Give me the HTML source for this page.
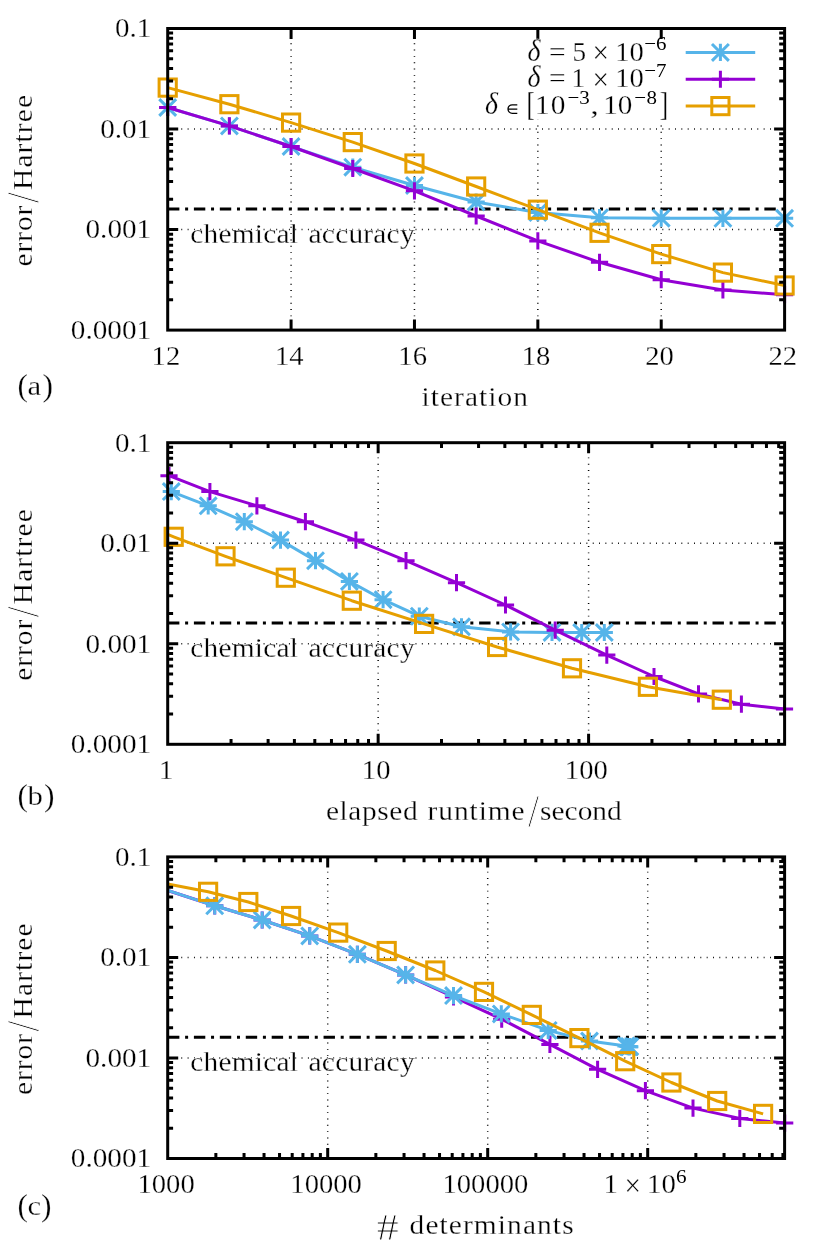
<!DOCTYPE html>
<html><head><meta charset="utf-8"><title>convergence</title>
<style>html,body{margin:0;padding:0;background:#fff}svg{display:block;will-change:transform}text{font-family:"Liberation Serif",serif;fill:#000}</style></head><body>
<svg width="830" height="1246" viewBox="0 0 830 1246">
<rect width="830" height="1246" fill="#fff"/>
<path d="M168.65 129.03H774.1M168.65 229.57H774.1M291.08 329V39M414.46 329V39M537.84 329V39M661.22 329V39" stroke="#000" stroke-width="1.5" stroke-dasharray="0.9 5.43" fill="none"/>
<rect x="478" y="30.5" width="296" height="89.3" fill="#fff"/>
<path d="M167.97 208.9H784.6" stroke="#000" stroke-width="3" stroke-dasharray="11.4 5.75 3 5.78" fill="none"/>
<path d="M167.7 107.5L229.39 125.9L291.08 146.5L352.77 167.2L414.46 185.5L476.15 202L537.84 212.6L599.53 217.7L661.22 218.2L722.91 218.3L784.6 218.3" stroke="#56B4E9" stroke-width="3" fill="none" stroke-linejoin="round"/>
<path d="M159.1 107.5H176.3M167.7 98.9V116.1M159.27 99.07L176.13 115.93M159.27 115.93L176.13 99.07" stroke="#56B4E9" stroke-width="3" fill="none"/>
<path d="M220.79 125.9H237.99M229.39 117.3V134.5M220.96 117.47L237.82 134.33M220.96 134.33L237.82 117.47" stroke="#56B4E9" stroke-width="3" fill="none"/>
<path d="M282.48 146.5H299.68M291.08 137.9V155.1M282.65 138.07L299.51 154.93M282.65 154.93L299.51 138.07" stroke="#56B4E9" stroke-width="3" fill="none"/>
<path d="M344.17 167.2H361.37M352.77 158.6V175.8M344.34 158.77L361.2 175.63M344.34 175.63L361.2 158.77" stroke="#56B4E9" stroke-width="3" fill="none"/>
<path d="M405.86 185.5H423.06M414.46 176.9V194.1M406.03 177.07L422.89 193.93M406.03 193.93L422.89 177.07" stroke="#56B4E9" stroke-width="3" fill="none"/>
<path d="M467.55 202H484.75M476.15 193.4V210.6M467.72 193.57L484.58 210.43M467.72 210.43L484.58 193.57" stroke="#56B4E9" stroke-width="3" fill="none"/>
<path d="M529.24 212.6H546.44M537.84 204V221.2M529.41 204.17L546.27 221.03M529.41 221.03L546.27 204.17" stroke="#56B4E9" stroke-width="3" fill="none"/>
<path d="M590.93 217.7H608.13M599.53 209.1V226.3M591.1 209.27L607.96 226.13M591.1 226.13L607.96 209.27" stroke="#56B4E9" stroke-width="3" fill="none"/>
<path d="M652.62 218.2H669.82M661.22 209.6V226.8M652.79 209.77L669.65 226.63M652.79 226.63L669.65 209.77" stroke="#56B4E9" stroke-width="3" fill="none"/>
<path d="M714.31 218.3H731.51M722.91 209.7V226.9M714.48 209.87L731.34 226.73M714.48 226.73L731.34 209.87" stroke="#56B4E9" stroke-width="3" fill="none"/>
<path d="M776 218.3H793.2M784.6 209.7V226.9M776.17 209.87L793.03 226.73M776.17 226.73L793.03 209.87" stroke="#56B4E9" stroke-width="3" fill="none"/>
<path d="M167.7 107.5L229.39 125.9L291.08 146.5L352.77 168.5L414.46 190.8L476.15 216L537.84 240.9L599.53 262.3L661.22 279.7L722.91 290L784.6 294.7" stroke="#9400D3" stroke-width="3" fill="none" stroke-linejoin="round"/>
<path d="M159.1 107.5H176.3M167.7 98.9V116.1" stroke="#9400D3" stroke-width="3" fill="none"/>
<path d="M220.79 125.9H237.99M229.39 117.3V134.5" stroke="#9400D3" stroke-width="3" fill="none"/>
<path d="M282.48 146.5H299.68M291.08 137.9V155.1" stroke="#9400D3" stroke-width="3" fill="none"/>
<path d="M344.17 168.5H361.37M352.77 159.9V177.1" stroke="#9400D3" stroke-width="3" fill="none"/>
<path d="M405.86 190.8H423.06M414.46 182.2V199.4" stroke="#9400D3" stroke-width="3" fill="none"/>
<path d="M467.55 216H484.75M476.15 207.4V224.6" stroke="#9400D3" stroke-width="3" fill="none"/>
<path d="M529.24 240.9H546.44M537.84 232.3V249.5" stroke="#9400D3" stroke-width="3" fill="none"/>
<path d="M590.93 262.3H608.13M599.53 253.7V270.9" stroke="#9400D3" stroke-width="3" fill="none"/>
<path d="M652.62 279.7H669.82M661.22 271.1V288.3" stroke="#9400D3" stroke-width="3" fill="none"/>
<path d="M714.31 290H731.51M722.91 281.4V298.6" stroke="#9400D3" stroke-width="3" fill="none"/>
<path d="M776 294.7H793.2M784.6 286.1V303.3" stroke="#9400D3" stroke-width="3" fill="none"/>
<path d="M167.7 87.6L229.39 104.2L291.08 122.6L352.77 142.1L414.46 163.5L476.15 186.5L537.84 209.7L599.53 232.8L661.22 254.1L722.91 272.6L784.6 285.5" stroke="#E69F00" stroke-width="3" fill="none" stroke-linejoin="round"/>
<rect x="159.1" y="79" width="17.2" height="17.2" stroke="#E69F00" stroke-width="3" fill="none"/>
<rect x="220.79" y="95.6" width="17.2" height="17.2" stroke="#E69F00" stroke-width="3" fill="none"/>
<rect x="282.48" y="114" width="17.2" height="17.2" stroke="#E69F00" stroke-width="3" fill="none"/>
<rect x="344.17" y="133.5" width="17.2" height="17.2" stroke="#E69F00" stroke-width="3" fill="none"/>
<rect x="405.86" y="154.9" width="17.2" height="17.2" stroke="#E69F00" stroke-width="3" fill="none"/>
<rect x="467.55" y="177.9" width="17.2" height="17.2" stroke="#E69F00" stroke-width="3" fill="none"/>
<rect x="529.24" y="201.1" width="17.2" height="17.2" stroke="#E69F00" stroke-width="3" fill="none"/>
<rect x="590.93" y="224.2" width="17.2" height="17.2" stroke="#E69F00" stroke-width="3" fill="none"/>
<rect x="652.62" y="245.5" width="17.2" height="17.2" stroke="#E69F00" stroke-width="3" fill="none"/>
<rect x="714.31" y="264" width="17.2" height="17.2" stroke="#E69F00" stroke-width="3" fill="none"/>
<rect x="776" y="276.9" width="17.2" height="17.2" stroke="#E69F00" stroke-width="3" fill="none"/>
<path d="M167.7 98.77h5.4M784.6 98.77h-5.4M167.7 81.07h5.4M784.6 81.07h-5.4M167.7 68.51h5.4M784.6 68.51h-5.4M167.7 58.76h5.4M784.6 58.76h-5.4M167.7 50.8h5.4M784.6 50.8h-5.4M167.7 44.07h5.4M784.6 44.07h-5.4M167.7 38.24h5.4M784.6 38.24h-5.4M167.7 33.1h5.4M784.6 33.1h-5.4M167.7 129.03h10.5M784.6 129.03h-10.5M167.7 199.3h5.4M784.6 199.3h-5.4M167.7 181.6h5.4M784.6 181.6h-5.4M167.7 169.04h5.4M784.6 169.04h-5.4M167.7 159.3h5.4M784.6 159.3h-5.4M167.7 151.34h5.4M784.6 151.34h-5.4M167.7 144.61h5.4M784.6 144.61h-5.4M167.7 138.78h5.4M784.6 138.78h-5.4M167.7 133.63h5.4M784.6 133.63h-5.4M167.7 229.57h10.5M784.6 229.57h-10.5M167.7 299.84h5.4M784.6 299.84h-5.4M167.7 282.13h5.4M784.6 282.13h-5.4M167.7 269.57h5.4M784.6 269.57h-5.4M167.7 259.83h5.4M784.6 259.83h-5.4M167.7 251.87h5.4M784.6 251.87h-5.4M167.7 245.14h5.4M784.6 245.14h-5.4M167.7 239.31h5.4M784.6 239.31h-5.4M167.7 234.17h5.4M784.6 234.17h-5.4M291.08 330.1v-10.5M291.08 28.5v10.5M414.46 330.1v-10.5M414.46 28.5v10.5M537.84 330.1v-10.5M537.84 28.5v10.5M661.22 330.1v-10.5M661.22 28.5v10.5" stroke="#000" stroke-width="3" fill="none"/>
<rect x="167.7" y="28.5" width="616.9" height="301.6" stroke="#000" stroke-width="3" fill="none"/>
<text transform="translate(151.2 37.4) scale(1.0560 1)" text-anchor="end" font-size="27.5" textLength="34.38" lengthAdjust="spacing" stroke="#fff" stroke-width="0.26">0.1</text>
<text transform="translate(151.2 137.93) scale(1.0597 1)" text-anchor="end" font-size="27.5" textLength="48.13" lengthAdjust="spacing" stroke="#fff" stroke-width="0.26">0.01</text>
<text transform="translate(151.2 238.47) scale(1.0618 1)" text-anchor="end" font-size="27.5" textLength="61.88" lengthAdjust="spacing" stroke="#fff" stroke-width="0.26">0.001</text>
<text transform="translate(151.2 339) scale(1.0631 1)" text-anchor="end" font-size="27.5" textLength="75.62" lengthAdjust="spacing" stroke="#fff" stroke-width="0.26">0.0001</text>
<text transform="translate(165.9 364.9) scale(1.0400 1)" text-anchor="middle" font-size="27.5" textLength="27.5" lengthAdjust="spacing" stroke="#fff" stroke-width="0.26">12</text>
<text transform="translate(289.28 364.9) scale(1.0400 1)" text-anchor="middle" font-size="27.5" textLength="27.5" lengthAdjust="spacing" stroke="#fff" stroke-width="0.26">14</text>
<text transform="translate(412.66 364.9) scale(1.0400 1)" text-anchor="middle" font-size="27.5" textLength="27.5" lengthAdjust="spacing" stroke="#fff" stroke-width="0.26">16</text>
<text transform="translate(536.04 364.9) scale(1.0400 1)" text-anchor="middle" font-size="27.5" textLength="27.5" lengthAdjust="spacing" stroke="#fff" stroke-width="0.26">18</text>
<text transform="translate(659.42 364.9) scale(1.0400 1)" text-anchor="middle" font-size="27.5" textLength="27.5" lengthAdjust="spacing" stroke="#fff" stroke-width="0.26">20</text>
<text transform="translate(782.8 364.9) scale(1.0400 1)" text-anchor="middle" font-size="27.5" textLength="27.5" lengthAdjust="spacing" stroke="#fff" stroke-width="0.26">22</text>
<text transform="translate(190.3 242.6) scale(1.0700 1)" text-anchor="start" font-size="27.5" textLength="100.56" lengthAdjust="spacing" stroke="#fff" stroke-width="0.26">chemical</text>
<text transform="translate(308.6 242.6) scale(1.0700 1)" text-anchor="start" font-size="27.5" textLength="99.07" lengthAdjust="spacing" stroke="#fff" stroke-width="0.26">accuracy</text>
<text transform="translate(31.9 266.6) rotate(-90) scale(1.0700 1)" text-anchor="start" font-size="27.5" textLength="57.01" lengthAdjust="spacing" stroke="#fff" stroke-width="0.26">error</text>
<text transform="translate(38.6 203.3) rotate(-90) scale(0.8781 1)" text-anchor="start" font-size="45.5" stroke="#fff" stroke-width="1.1">/</text>
<text transform="translate(31.9 190) rotate(-90) scale(1.0700 1)" text-anchor="start" font-size="27.5" textLength="88.79" lengthAdjust="spacing" stroke="#fff" stroke-width="0.26">Hartree</text>
<text transform="translate(421.4 405.9) scale(1.0700 1)" text-anchor="start" font-size="27.5" textLength="99.63" lengthAdjust="spacing" stroke="#fff" stroke-width="0.26">iteration</text>
<text transform="translate(17.4 395.8)" text-anchor="start" font-size="31.5" stroke="#fff" stroke-width="0.26">(</text>
<text transform="translate(27.6 394.8) scale(1.1200 1)" text-anchor="start" font-size="27.5" stroke="#fff" stroke-width="0.26">a</text>
<text transform="translate(42.6 395.8)" text-anchor="start" font-size="31.5" stroke="#fff" stroke-width="0.26">)</text>
<path d="M685.7 52.4H755.2" stroke="#56B4E9" stroke-width="3"/>
<path d="M711.8 52.4H729M720.4 43.8V61M711.97 43.97L728.83 60.83M711.97 60.83L728.83 43.97" stroke="#56B4E9" stroke-width="3" fill="none"/>
<path d="M685.7 79.25H755.2" stroke="#9400D3" stroke-width="3"/>
<path d="M711.8 79.25H729M720.4 70.65V87.85" stroke="#9400D3" stroke-width="3" fill="none"/>
<path d="M685.7 106.1H755.2" stroke="#E69F00" stroke-width="3"/>
<rect x="711.8" y="97.5" width="17.2" height="17.2" stroke="#E69F00" stroke-width="3" fill="none"/>
<text transform="translate(527.6 60.5) scale(0.8878 1)" text-anchor="start" font-size="31.5" font-style="italic" stroke="#fff" stroke-width="0.26">δ</text>
<text transform="translate(549 60.5) scale(1.0703 1)" text-anchor="start" font-size="27.5" stroke="#fff" stroke-width="0.26">=</text>
<text transform="translate(572.6 60.5) scale(0.9891 1)" text-anchor="start" font-size="27.5" stroke="#fff" stroke-width="0.26">5</text>
<text transform="translate(592.4 62.9) scale(0.9381 1)" text-anchor="start" font-size="31" stroke="#fff" stroke-width="0.26">×</text>
<text transform="translate(615.2 60.5) scale(1.0400 1)" text-anchor="start" font-size="27.5" textLength="27.5" lengthAdjust="spacing" stroke="#fff" stroke-width="0.26">10</text>
<text transform="translate(644.2 50.1) scale(1.0700 1)" text-anchor="start" font-size="19.6" textLength="20.93" lengthAdjust="spacing" stroke="none">−6</text>
<text transform="translate(527.6 87.4) scale(0.8878 1)" text-anchor="start" font-size="31.5" font-style="italic" stroke="#fff" stroke-width="0.26">δ</text>
<text transform="translate(549 87.4) scale(1.0703 1)" text-anchor="start" font-size="27.5" stroke="#fff" stroke-width="0.26">=</text>
<text transform="translate(571.6 87.4) scale(0.9891 1)" text-anchor="start" font-size="27.5" stroke="#fff" stroke-width="0.26">1</text>
<text transform="translate(592.4 89.8) scale(0.9381 1)" text-anchor="start" font-size="31" stroke="#fff" stroke-width="0.26">×</text>
<text transform="translate(615.2 87.4) scale(1.0400 1)" text-anchor="start" font-size="27.5" textLength="27.5" lengthAdjust="spacing" stroke="#fff" stroke-width="0.26">10</text>
<text transform="translate(644.2 77) scale(1.0700 1)" text-anchor="start" font-size="19.6" textLength="20.93" lengthAdjust="spacing" stroke="none">−7</text>
<text transform="translate(485 114.3) scale(0.8878 1)" text-anchor="start" font-size="31.5" font-style="italic" stroke="#fff" stroke-width="0.26">δ</text>
<path d="M517.3 104.8H512.3A4.3 4.3 0 0 0 512.3 113.4H517.3M507.6 109.1H517.3" stroke="#000" stroke-width="1.3" fill="none"/>
<text transform="translate(526.6 114.9) scale(0.7644 1)" text-anchor="start" font-size="33" stroke="#fff" stroke-width="0.26">[</text>
<text transform="translate(535 114.3) scale(1.0700 1)" text-anchor="start" font-size="27.5" textLength="28.41" lengthAdjust="spacing" stroke="#fff" stroke-width="0.26">10</text>
<text transform="translate(567.4 103.9) scale(1.0700 1)" text-anchor="start" font-size="19.6" textLength="20.93" lengthAdjust="spacing" stroke="none">−3</text>
<text transform="translate(590.2 114.3) scale(1.2509 1)" text-anchor="start" font-size="27.5" stroke="#fff" stroke-width="0.26">,</text>
<text transform="translate(603.2 114.3) scale(1.0618 1)" text-anchor="start" font-size="27.5" textLength="27.5" lengthAdjust="spacing" stroke="#fff" stroke-width="0.26">10</text>
<text transform="translate(634.2 103.9) scale(1.0700 1)" text-anchor="start" font-size="19.6" textLength="21.31" lengthAdjust="spacing" stroke="none">−8</text>
<text transform="translate(659.8 114.9) scale(0.7644 1)" text-anchor="start" font-size="33" stroke="#fff" stroke-width="0.26">]</text>
<path d="M168.65 543.23H774.1M168.65 643.77H774.1M378.15 743.2V453.2M588.6 743.2V453.2" stroke="#000" stroke-width="1.5" stroke-dasharray="0.9 5.43" fill="none"/>
<path d="M167.97 623.1H784.6" stroke="#000" stroke-width="3" stroke-dasharray="11.4 5.75 3 5.78" fill="none"/>
<path d="M171.3 491.6L208.2 505.8L244.3 521.7L280.5 540.1L315.5 560.7L349.4 581.4L383.1 599.7L419.3 616.2L461.5 626.8L510.6 631.9L552 632.4L581.7 632.5L604.3 632.5" stroke="#56B4E9" stroke-width="3" fill="none" stroke-linejoin="round"/>
<path d="M162.7 491.6H179.9M171.3 483V500.2M162.87 483.17L179.73 500.03M162.87 500.03L179.73 483.17" stroke="#56B4E9" stroke-width="3" fill="none"/>
<path d="M199.6 505.8H216.8M208.2 497.2V514.4M199.77 497.37L216.63 514.23M199.77 514.23L216.63 497.37" stroke="#56B4E9" stroke-width="3" fill="none"/>
<path d="M235.7 521.7H252.9M244.3 513.1V530.3M235.87 513.27L252.73 530.13M235.87 530.13L252.73 513.27" stroke="#56B4E9" stroke-width="3" fill="none"/>
<path d="M271.9 540.1H289.1M280.5 531.5V548.7M272.07 531.67L288.93 548.53M272.07 548.53L288.93 531.67" stroke="#56B4E9" stroke-width="3" fill="none"/>
<path d="M306.9 560.7H324.1M315.5 552.1V569.3M307.07 552.27L323.93 569.13M307.07 569.13L323.93 552.27" stroke="#56B4E9" stroke-width="3" fill="none"/>
<path d="M340.8 581.4H358M349.4 572.8V590M340.97 572.97L357.83 589.83M340.97 589.83L357.83 572.97" stroke="#56B4E9" stroke-width="3" fill="none"/>
<path d="M374.5 599.7H391.7M383.1 591.1V608.3M374.67 591.27L391.53 608.13M374.67 608.13L391.53 591.27" stroke="#56B4E9" stroke-width="3" fill="none"/>
<path d="M410.7 616.2H427.9M419.3 607.6V624.8M410.87 607.77L427.73 624.63M410.87 624.63L427.73 607.77" stroke="#56B4E9" stroke-width="3" fill="none"/>
<path d="M452.9 626.8H470.1M461.5 618.2V635.4M453.07 618.37L469.93 635.23M453.07 635.23L469.93 618.37" stroke="#56B4E9" stroke-width="3" fill="none"/>
<path d="M502 631.9H519.2M510.6 623.3V640.5M502.17 623.47L519.03 640.33M502.17 640.33L519.03 623.47" stroke="#56B4E9" stroke-width="3" fill="none"/>
<path d="M543.4 632.4H560.6M552 623.8V641M543.57 623.97L560.43 640.83M543.57 640.83L560.43 623.97" stroke="#56B4E9" stroke-width="3" fill="none"/>
<path d="M573.1 632.5H590.3M581.7 623.9V641.1M573.27 624.07L590.13 640.93M573.27 640.93L590.13 624.07" stroke="#56B4E9" stroke-width="3" fill="none"/>
<path d="M595.7 632.5H612.9M604.3 623.9V641.1M595.87 624.07L612.73 640.93M595.87 640.93L612.73 624.07" stroke="#56B4E9" stroke-width="3" fill="none"/>
<path d="M169 475.7L209.9 491.6L256.9 505.8L305.4 521.7L355.9 540.1L406 560.7L456.5 582.7L505.5 605L555.2 630.2L606.8 655.1L654 676.5L698.5 693.9L741.4 704.2L784.5 708.9" stroke="#9400D3" stroke-width="3" fill="none" stroke-linejoin="round"/>
<path d="M160.4 475.7H177.6M169 467.1V484.3" stroke="#9400D3" stroke-width="3" fill="none"/>
<path d="M201.3 491.6H218.5M209.9 483V500.2" stroke="#9400D3" stroke-width="3" fill="none"/>
<path d="M248.3 505.8H265.5M256.9 497.2V514.4" stroke="#9400D3" stroke-width="3" fill="none"/>
<path d="M296.8 521.7H314M305.4 513.1V530.3" stroke="#9400D3" stroke-width="3" fill="none"/>
<path d="M347.3 540.1H364.5M355.9 531.5V548.7" stroke="#9400D3" stroke-width="3" fill="none"/>
<path d="M397.4 560.7H414.6M406 552.1V569.3" stroke="#9400D3" stroke-width="3" fill="none"/>
<path d="M447.9 582.7H465.1M456.5 574.1V591.3" stroke="#9400D3" stroke-width="3" fill="none"/>
<path d="M496.9 605H514.1M505.5 596.4V613.6" stroke="#9400D3" stroke-width="3" fill="none"/>
<path d="M546.6 630.2H563.8M555.2 621.6V638.8" stroke="#9400D3" stroke-width="3" fill="none"/>
<path d="M598.2 655.1H615.4M606.8 646.5V663.7" stroke="#9400D3" stroke-width="3" fill="none"/>
<path d="M645.4 676.5H662.6M654 667.9V685.1" stroke="#9400D3" stroke-width="3" fill="none"/>
<path d="M689.9 693.9H707.1M698.5 685.3V702.5" stroke="#9400D3" stroke-width="3" fill="none"/>
<path d="M732.8 704.2H750M741.4 695.6V712.8" stroke="#9400D3" stroke-width="3" fill="none"/>
<path d="M775.9 708.9H793.1M784.5 700.3V717.5" stroke="#9400D3" stroke-width="3" fill="none"/>
<path d="M167.7 534.4L173.7 536.8L225.5 556.3L285.8 577.7L351.8 600.7L424.1 623.9L497.1 647L572 668.3L647.9 686.8L721.8 699.7" stroke="#E69F00" stroke-width="3" fill="none" stroke-linejoin="round"/>
<rect x="165.1" y="528.2" width="17.2" height="17.2" stroke="#E69F00" stroke-width="3" fill="none"/>
<rect x="216.9" y="547.7" width="17.2" height="17.2" stroke="#E69F00" stroke-width="3" fill="none"/>
<rect x="277.2" y="569.1" width="17.2" height="17.2" stroke="#E69F00" stroke-width="3" fill="none"/>
<rect x="343.2" y="592.1" width="17.2" height="17.2" stroke="#E69F00" stroke-width="3" fill="none"/>
<rect x="415.5" y="615.3" width="17.2" height="17.2" stroke="#E69F00" stroke-width="3" fill="none"/>
<rect x="488.5" y="638.4" width="17.2" height="17.2" stroke="#E69F00" stroke-width="3" fill="none"/>
<rect x="563.4" y="659.7" width="17.2" height="17.2" stroke="#E69F00" stroke-width="3" fill="none"/>
<rect x="639.3" y="678.2" width="17.2" height="17.2" stroke="#E69F00" stroke-width="3" fill="none"/>
<rect x="713.2" y="691.1" width="17.2" height="17.2" stroke="#E69F00" stroke-width="3" fill="none"/>
<path d="M167.7 512.97h5.4M784.6 512.97h-5.4M167.7 495.27h5.4M784.6 495.27h-5.4M167.7 482.71h5.4M784.6 482.71h-5.4M167.7 472.96h5.4M784.6 472.96h-5.4M167.7 465h5.4M784.6 465h-5.4M167.7 458.27h5.4M784.6 458.27h-5.4M167.7 452.44h5.4M784.6 452.44h-5.4M167.7 447.3h5.4M784.6 447.3h-5.4M167.7 543.23h10.5M784.6 543.23h-10.5M167.7 613.5h5.4M784.6 613.5h-5.4M167.7 595.8h5.4M784.6 595.8h-5.4M167.7 583.24h5.4M784.6 583.24h-5.4M167.7 573.5h5.4M784.6 573.5h-5.4M167.7 565.54h5.4M784.6 565.54h-5.4M167.7 558.81h5.4M784.6 558.81h-5.4M167.7 552.98h5.4M784.6 552.98h-5.4M167.7 547.83h5.4M784.6 547.83h-5.4M167.7 643.77h10.5M784.6 643.77h-10.5M167.7 714.04h5.4M784.6 714.04h-5.4M167.7 696.33h5.4M784.6 696.33h-5.4M167.7 683.77h5.4M784.6 683.77h-5.4M167.7 674.03h5.4M784.6 674.03h-5.4M167.7 666.07h5.4M784.6 666.07h-5.4M167.7 659.34h5.4M784.6 659.34h-5.4M167.7 653.51h5.4M784.6 653.51h-5.4M167.7 648.37h5.4M784.6 648.37h-5.4M378.15 744.3v-10.5M378.15 442.7v10.5M588.6 744.3v-10.5M588.6 442.7v10.5M231.05 744.3v-5.4M231.05 442.7v5.4M268.11 744.3v-5.4M268.11 442.7v5.4M294.4 744.3v-5.4M294.4 442.7v5.4M314.8 744.3v-5.4M314.8 442.7v5.4M331.46 744.3v-5.4M331.46 442.7v5.4M345.55 744.3v-5.4M345.55 442.7v5.4M357.76 744.3v-5.4M357.76 442.7v5.4M368.52 744.3v-5.4M368.52 442.7v5.4M441.5 744.3v-5.4M441.5 442.7v5.4M478.56 744.3v-5.4M478.56 442.7v5.4M504.85 744.3v-5.4M504.85 442.7v5.4M525.25 744.3v-5.4M525.25 442.7v5.4M541.91 744.3v-5.4M541.91 442.7v5.4M556 744.3v-5.4M556 442.7v5.4M568.21 744.3v-5.4M568.21 442.7v5.4M578.97 744.3v-5.4M578.97 442.7v5.4M651.95 744.3v-5.4M651.95 442.7v5.4M689.01 744.3v-5.4M689.01 442.7v5.4M715.3 744.3v-5.4M715.3 442.7v5.4M735.7 744.3v-5.4M735.7 442.7v5.4M752.36 744.3v-5.4M752.36 442.7v5.4M766.45 744.3v-5.4M766.45 442.7v5.4M778.66 744.3v-5.4M778.66 442.7v5.4" stroke="#000" stroke-width="3" fill="none"/>
<rect x="167.7" y="442.7" width="616.9" height="301.6" stroke="#000" stroke-width="3" fill="none"/>
<text transform="translate(151.2 451.6) scale(1.0560 1)" text-anchor="end" font-size="27.5" textLength="34.38" lengthAdjust="spacing" stroke="#fff" stroke-width="0.26">0.1</text>
<text transform="translate(151.2 552.13) scale(1.0597 1)" text-anchor="end" font-size="27.5" textLength="48.13" lengthAdjust="spacing" stroke="#fff" stroke-width="0.26">0.01</text>
<text transform="translate(151.2 652.67) scale(1.0618 1)" text-anchor="end" font-size="27.5" textLength="61.88" lengthAdjust="spacing" stroke="#fff" stroke-width="0.26">0.001</text>
<text transform="translate(151.2 753.2) scale(1.0631 1)" text-anchor="end" font-size="27.5" textLength="75.62" lengthAdjust="spacing" stroke="#fff" stroke-width="0.26">0.0001</text>
<text transform="translate(166.1 779.1) scale(1.0400 1)" text-anchor="middle" font-size="27.5" stroke="#fff" stroke-width="0.26">1</text>
<text transform="translate(376.15 779.1) scale(1.0400 1)" text-anchor="middle" font-size="27.5" textLength="27.5" lengthAdjust="spacing" stroke="#fff" stroke-width="0.26">10</text>
<text transform="translate(586.3 779.1) scale(1.0400 1)" text-anchor="middle" font-size="27.5" textLength="41.25" lengthAdjust="spacing" stroke="#fff" stroke-width="0.26">100</text>
<text transform="translate(190.3 656.8) scale(1.0700 1)" text-anchor="start" font-size="27.5" textLength="100.56" lengthAdjust="spacing" stroke="#fff" stroke-width="0.26">chemical</text>
<text transform="translate(308.6 656.8) scale(1.0700 1)" text-anchor="start" font-size="27.5" textLength="99.07" lengthAdjust="spacing" stroke="#fff" stroke-width="0.26">accuracy</text>
<text transform="translate(31.9 680.8) rotate(-90) scale(1.0700 1)" text-anchor="start" font-size="27.5" textLength="57.01" lengthAdjust="spacing" stroke="#fff" stroke-width="0.26">error</text>
<text transform="translate(38.6 617.5) rotate(-90) scale(0.8781 1)" text-anchor="start" font-size="45.5" stroke="#fff" stroke-width="1.1">/</text>
<text transform="translate(31.9 604.2) rotate(-90) scale(1.0700 1)" text-anchor="start" font-size="27.5" textLength="88.79" lengthAdjust="spacing" stroke="#fff" stroke-width="0.26">Hartree</text>
<text transform="translate(326 820.1) scale(1.0700 1)" text-anchor="start" font-size="27.5" textLength="85.61" lengthAdjust="spacing" stroke="#fff" stroke-width="0.26">elapsed</text>
<text transform="translate(427.6 820.1) scale(1.0700 1)" text-anchor="start" font-size="27.5" textLength="90.65" lengthAdjust="spacing" stroke="#fff" stroke-width="0.26">runtime</text>
<text transform="translate(527.9 826.9) scale(0.8781 1)" text-anchor="start" font-size="45.5" stroke="#fff" stroke-width="1.1">/</text>
<text transform="translate(540 820.1) scale(1.0700 1)" text-anchor="start" font-size="27.5" textLength="76.45" lengthAdjust="spacing" stroke="#fff" stroke-width="0.26">second</text>
<text transform="translate(17.4 806.2)" text-anchor="start" font-size="31.5" stroke="#fff" stroke-width="0.26">(</text>
<text transform="translate(27.6 805.2) scale(1.1200 1)" text-anchor="start" font-size="27.5" stroke="#fff" stroke-width="0.26">b</text>
<text transform="translate(43.9 806.2)" text-anchor="start" font-size="31.5" stroke="#fff" stroke-width="0.26">)</text>
<path d="M168.65 957.43H774.1M168.65 1057.97H774.1M327.7 1157.4V867.4M487.7 1157.4V867.4M647.7 1157.4V867.4" stroke="#000" stroke-width="1.5" stroke-dasharray="0.9 5.43" fill="none"/>
<path d="M167.97 1037.3H784.6" stroke="#000" stroke-width="3" stroke-dasharray="11.4 5.75 3 5.78" fill="none"/>
<path d="M167.7 890.5L214.7 905.8L262.2 920L309.7 935.9L357.4 954.3L405.6 974.9L453.5 996.9L501.7 1019.2L549.9 1044.4L597.6 1069.3L645.4 1090.7L693 1108.1L739.8 1118.4L784.7 1123.1" stroke="#9400D3" stroke-width="3" fill="none" stroke-linejoin="round"/>
<path d="M206.1 905.8H223.3M214.7 897.2V914.4" stroke="#9400D3" stroke-width="3" fill="none"/>
<path d="M253.6 920H270.8M262.2 911.4V928.6" stroke="#9400D3" stroke-width="3" fill="none"/>
<path d="M301.1 935.9H318.3M309.7 927.3V944.5" stroke="#9400D3" stroke-width="3" fill="none"/>
<path d="M348.8 954.3H366M357.4 945.7V962.9" stroke="#9400D3" stroke-width="3" fill="none"/>
<path d="M397 974.9H414.2M405.6 966.3V983.5" stroke="#9400D3" stroke-width="3" fill="none"/>
<path d="M444.9 996.9H462.1M453.5 988.3V1005.5" stroke="#9400D3" stroke-width="3" fill="none"/>
<path d="M493.1 1019.2H510.3M501.7 1010.6V1027.8" stroke="#9400D3" stroke-width="3" fill="none"/>
<path d="M541.3 1044.4H558.5M549.9 1035.8V1053" stroke="#9400D3" stroke-width="3" fill="none"/>
<path d="M589 1069.3H606.2M597.6 1060.7V1077.9" stroke="#9400D3" stroke-width="3" fill="none"/>
<path d="M636.8 1090.7H654M645.4 1082.1V1099.3" stroke="#9400D3" stroke-width="3" fill="none"/>
<path d="M684.4 1108.1H701.6M693 1099.5V1116.7" stroke="#9400D3" stroke-width="3" fill="none"/>
<path d="M731.2 1118.4H748.4M739.8 1109.8V1127" stroke="#9400D3" stroke-width="3" fill="none"/>
<path d="M776.1 1123.1H793.3M784.7 1114.5V1131.7" stroke="#9400D3" stroke-width="3" fill="none"/>
<path d="M167.7 890.3L214.7 905.8L262.2 920L309.7 935.9L357.4 954.3L405.6 974.9L453.5 995.6L501.3 1013.9L548.2 1030.4L589.5 1041L626 1046.1L628 1046.6L629.2 1046.7L629.8 1046.7" stroke="#56B4E9" stroke-width="3" fill="none" stroke-linejoin="round"/>
<path d="M206.1 905.8H223.3M214.7 897.2V914.4M206.27 897.37L223.13 914.23M206.27 914.23L223.13 897.37" stroke="#56B4E9" stroke-width="3" fill="none"/>
<path d="M253.6 920H270.8M262.2 911.4V928.6M253.77 911.57L270.63 928.43M253.77 928.43L270.63 911.57" stroke="#56B4E9" stroke-width="3" fill="none"/>
<path d="M301.1 935.9H318.3M309.7 927.3V944.5M301.27 927.47L318.13 944.33M301.27 944.33L318.13 927.47" stroke="#56B4E9" stroke-width="3" fill="none"/>
<path d="M348.8 954.3H366M357.4 945.7V962.9M348.97 945.87L365.83 962.73M348.97 962.73L365.83 945.87" stroke="#56B4E9" stroke-width="3" fill="none"/>
<path d="M397 974.9H414.2M405.6 966.3V983.5M397.17 966.47L414.03 983.33M397.17 983.33L414.03 966.47" stroke="#56B4E9" stroke-width="3" fill="none"/>
<path d="M444.9 995.6H462.1M453.5 987V1004.2M445.07 987.17L461.93 1004.03M445.07 1004.03L461.93 987.17" stroke="#56B4E9" stroke-width="3" fill="none"/>
<path d="M492.7 1013.9H509.9M501.3 1005.3V1022.5M492.87 1005.47L509.73 1022.33M492.87 1022.33L509.73 1005.47" stroke="#56B4E9" stroke-width="3" fill="none"/>
<path d="M539.6 1030.4H556.8M548.2 1021.8V1039M539.77 1021.97L556.63 1038.83M539.77 1038.83L556.63 1021.97" stroke="#56B4E9" stroke-width="3" fill="none"/>
<path d="M580.9 1041H598.1M589.5 1032.4V1049.6M581.07 1032.57L597.93 1049.43M581.07 1049.43L597.93 1032.57" stroke="#56B4E9" stroke-width="3" fill="none"/>
<path d="M617.4 1046.1H634.6M626 1037.5V1054.7M617.57 1037.67L634.43 1054.53M617.57 1054.53L634.43 1037.67" stroke="#56B4E9" stroke-width="3" fill="none"/>
<path d="M619.4 1046.6H636.6M628 1038V1055.2M619.57 1038.17L636.43 1055.03M619.57 1055.03L636.43 1038.17" stroke="#56B4E9" stroke-width="3" fill="none"/>
<path d="M620.6 1046.7H637.8M629.2 1038.1V1055.3M620.77 1038.27L637.63 1055.13M620.77 1055.13L637.63 1038.27" stroke="#56B4E9" stroke-width="3" fill="none"/>
<path d="M621.2 1046.7H638.4M629.8 1038.1V1055.3M621.37 1038.27L638.23 1055.13M621.37 1055.13L638.23 1038.27" stroke="#56B4E9" stroke-width="3" fill="none"/>
<path d="M167.7 884L208.1 891.8L248.3 902L291.1 916L338.2 932.6L386.7 951L435.3 970.5L484 991.9L531.8 1014.9L579.4 1038.1L625.2 1061.2L671.4 1082.5L717.2 1101L763.1 1113.9" stroke="#E69F00" stroke-width="3" fill="none" stroke-linejoin="round"/>
<rect x="199.5" y="883.2" width="17.2" height="17.2" stroke="#E69F00" stroke-width="3" fill="none"/>
<rect x="239.7" y="893.4" width="17.2" height="17.2" stroke="#E69F00" stroke-width="3" fill="none"/>
<rect x="282.5" y="907.4" width="17.2" height="17.2" stroke="#E69F00" stroke-width="3" fill="none"/>
<rect x="329.6" y="924" width="17.2" height="17.2" stroke="#E69F00" stroke-width="3" fill="none"/>
<rect x="378.1" y="942.4" width="17.2" height="17.2" stroke="#E69F00" stroke-width="3" fill="none"/>
<rect x="426.7" y="961.9" width="17.2" height="17.2" stroke="#E69F00" stroke-width="3" fill="none"/>
<rect x="475.4" y="983.3" width="17.2" height="17.2" stroke="#E69F00" stroke-width="3" fill="none"/>
<rect x="523.2" y="1006.3" width="17.2" height="17.2" stroke="#E69F00" stroke-width="3" fill="none"/>
<rect x="570.8" y="1029.5" width="17.2" height="17.2" stroke="#E69F00" stroke-width="3" fill="none"/>
<rect x="616.6" y="1052.6" width="17.2" height="17.2" stroke="#E69F00" stroke-width="3" fill="none"/>
<rect x="662.8" y="1073.9" width="17.2" height="17.2" stroke="#E69F00" stroke-width="3" fill="none"/>
<rect x="708.6" y="1092.4" width="17.2" height="17.2" stroke="#E69F00" stroke-width="3" fill="none"/>
<rect x="754.5" y="1105.3" width="17.2" height="17.2" stroke="#E69F00" stroke-width="3" fill="none"/>
<path d="M167.7 927.17h5.4M784.6 927.17h-5.4M167.7 909.47h5.4M784.6 909.47h-5.4M167.7 896.91h5.4M784.6 896.91h-5.4M167.7 887.16h5.4M784.6 887.16h-5.4M167.7 879.2h5.4M784.6 879.2h-5.4M167.7 872.47h5.4M784.6 872.47h-5.4M167.7 866.64h5.4M784.6 866.64h-5.4M167.7 861.5h5.4M784.6 861.5h-5.4M167.7 957.43h10.5M784.6 957.43h-10.5M167.7 1027.7h5.4M784.6 1027.7h-5.4M167.7 1010h5.4M784.6 1010h-5.4M167.7 997.44h5.4M784.6 997.44h-5.4M167.7 987.7h5.4M784.6 987.7h-5.4M167.7 979.74h5.4M784.6 979.74h-5.4M167.7 973.01h5.4M784.6 973.01h-5.4M167.7 967.18h5.4M784.6 967.18h-5.4M167.7 962.03h5.4M784.6 962.03h-5.4M167.7 1057.97h10.5M784.6 1057.97h-10.5M167.7 1128.24h5.4M784.6 1128.24h-5.4M167.7 1110.53h5.4M784.6 1110.53h-5.4M167.7 1097.97h5.4M784.6 1097.97h-5.4M167.7 1088.23h5.4M784.6 1088.23h-5.4M167.7 1080.27h5.4M784.6 1080.27h-5.4M167.7 1073.54h5.4M784.6 1073.54h-5.4M167.7 1067.71h5.4M784.6 1067.71h-5.4M167.7 1062.57h5.4M784.6 1062.57h-5.4M327.7 1158.5v-10.5M327.7 856.9v10.5M487.7 1158.5v-10.5M487.7 856.9v10.5M647.7 1158.5v-10.5M647.7 856.9v10.5M215.86 1158.5v-5.4M215.86 856.9v5.4M244.04 1158.5v-5.4M244.04 856.9v5.4M264.03 1158.5v-5.4M264.03 856.9v5.4M279.54 1158.5v-5.4M279.54 856.9v5.4M292.2 1158.5v-5.4M292.2 856.9v5.4M302.92 1158.5v-5.4M302.92 856.9v5.4M312.19 1158.5v-5.4M312.19 856.9v5.4M320.38 1158.5v-5.4M320.38 856.9v5.4M375.86 1158.5v-5.4M375.86 856.9v5.4M404.04 1158.5v-5.4M404.04 856.9v5.4M424.03 1158.5v-5.4M424.03 856.9v5.4M439.54 1158.5v-5.4M439.54 856.9v5.4M452.2 1158.5v-5.4M452.2 856.9v5.4M462.92 1158.5v-5.4M462.92 856.9v5.4M472.19 1158.5v-5.4M472.19 856.9v5.4M480.38 1158.5v-5.4M480.38 856.9v5.4M535.86 1158.5v-5.4M535.86 856.9v5.4M564.04 1158.5v-5.4M564.04 856.9v5.4M584.03 1158.5v-5.4M584.03 856.9v5.4M599.54 1158.5v-5.4M599.54 856.9v5.4M612.2 1158.5v-5.4M612.2 856.9v5.4M622.92 1158.5v-5.4M622.92 856.9v5.4M632.19 1158.5v-5.4M632.19 856.9v5.4M640.38 1158.5v-5.4M640.38 856.9v5.4M695.86 1158.5v-5.4M695.86 856.9v5.4M724.04 1158.5v-5.4M724.04 856.9v5.4M744.03 1158.5v-5.4M744.03 856.9v5.4M759.54 1158.5v-5.4M759.54 856.9v5.4M772.2 1158.5v-5.4M772.2 856.9v5.4M782.92 1158.5v-5.4M782.92 856.9v5.4" stroke="#000" stroke-width="3" fill="none"/>
<rect x="167.7" y="856.9" width="616.9" height="301.6" stroke="#000" stroke-width="3" fill="none"/>
<text transform="translate(151.2 865.8) scale(1.0560 1)" text-anchor="end" font-size="27.5" textLength="34.38" lengthAdjust="spacing" stroke="#fff" stroke-width="0.26">0.1</text>
<text transform="translate(151.2 966.33) scale(1.0597 1)" text-anchor="end" font-size="27.5" textLength="48.13" lengthAdjust="spacing" stroke="#fff" stroke-width="0.26">0.01</text>
<text transform="translate(151.2 1066.87) scale(1.0618 1)" text-anchor="end" font-size="27.5" textLength="61.88" lengthAdjust="spacing" stroke="#fff" stroke-width="0.26">0.001</text>
<text transform="translate(151.2 1167.4) scale(1.0631 1)" text-anchor="end" font-size="27.5" textLength="75.62" lengthAdjust="spacing" stroke="#fff" stroke-width="0.26">0.0001</text>
<text transform="translate(166.1 1193.3) scale(1.0400 1)" text-anchor="middle" font-size="27.5" textLength="55" lengthAdjust="spacing" stroke="#fff" stroke-width="0.26">1000</text>
<text transform="translate(326.1 1193.3) scale(1.0400 1)" text-anchor="middle" font-size="27.5" textLength="68.75" lengthAdjust="spacing" stroke="#fff" stroke-width="0.26">10000</text>
<text transform="translate(485.4 1193.3) scale(1.0400 1)" text-anchor="middle" font-size="27.5" textLength="82.5" lengthAdjust="spacing" stroke="#fff" stroke-width="0.26">100000</text>
<text transform="translate(603.5 1193.3) scale(1.0473 1)" text-anchor="start" font-size="27.5" stroke="#fff" stroke-width="0.26">1</text>
<text transform="translate(624.4 1195.7) scale(0.9381 1)" text-anchor="start" font-size="31" stroke="#fff" stroke-width="0.26">×</text>
<text transform="translate(647 1193.3) scale(1.0473 1)" text-anchor="start" font-size="27.5" textLength="27.5" lengthAdjust="spacing" stroke="#fff" stroke-width="0.26">10</text>
<text transform="translate(676 1182.8) scale(1.0816 1)" text-anchor="start" font-size="19.6" stroke="none">6</text>
<text transform="translate(190.3 1071) scale(1.0700 1)" text-anchor="start" font-size="27.5" textLength="100.56" lengthAdjust="spacing" stroke="#fff" stroke-width="0.26">chemical</text>
<text transform="translate(308.6 1071) scale(1.0700 1)" text-anchor="start" font-size="27.5" textLength="99.07" lengthAdjust="spacing" stroke="#fff" stroke-width="0.26">accuracy</text>
<text transform="translate(31.9 1095) rotate(-90) scale(1.0700 1)" text-anchor="start" font-size="27.5" textLength="57.01" lengthAdjust="spacing" stroke="#fff" stroke-width="0.26">error</text>
<text transform="translate(38.6 1031.7) rotate(-90) scale(0.8781 1)" text-anchor="start" font-size="45.5" stroke="#fff" stroke-width="1.1">/</text>
<text transform="translate(31.9 1018.4) rotate(-90) scale(1.0700 1)" text-anchor="start" font-size="27.5" textLength="88.79" lengthAdjust="spacing" stroke="#fff" stroke-width="0.26">Hartree</text>
<text transform="translate(376.4 1239.9) scale(1.1789 1)" text-anchor="start" font-size="38" stroke="#fff" stroke-width="0.8">#</text>
<text transform="translate(409.6 1234.3) scale(1.0700 1)" text-anchor="start" font-size="27.5" textLength="153.27" lengthAdjust="spacing" stroke="#fff" stroke-width="0.26">determinants</text>
<text transform="translate(17.4 1216)" text-anchor="start" font-size="31.5" stroke="#fff" stroke-width="0.26">(</text>
<text transform="translate(27.6 1215) scale(1.1200 1)" text-anchor="start" font-size="27.5" stroke="#fff" stroke-width="0.26">c</text>
<text transform="translate(41.1 1216)" text-anchor="start" font-size="31.5" stroke="#fff" stroke-width="0.26">)</text>
</svg></body></html>
